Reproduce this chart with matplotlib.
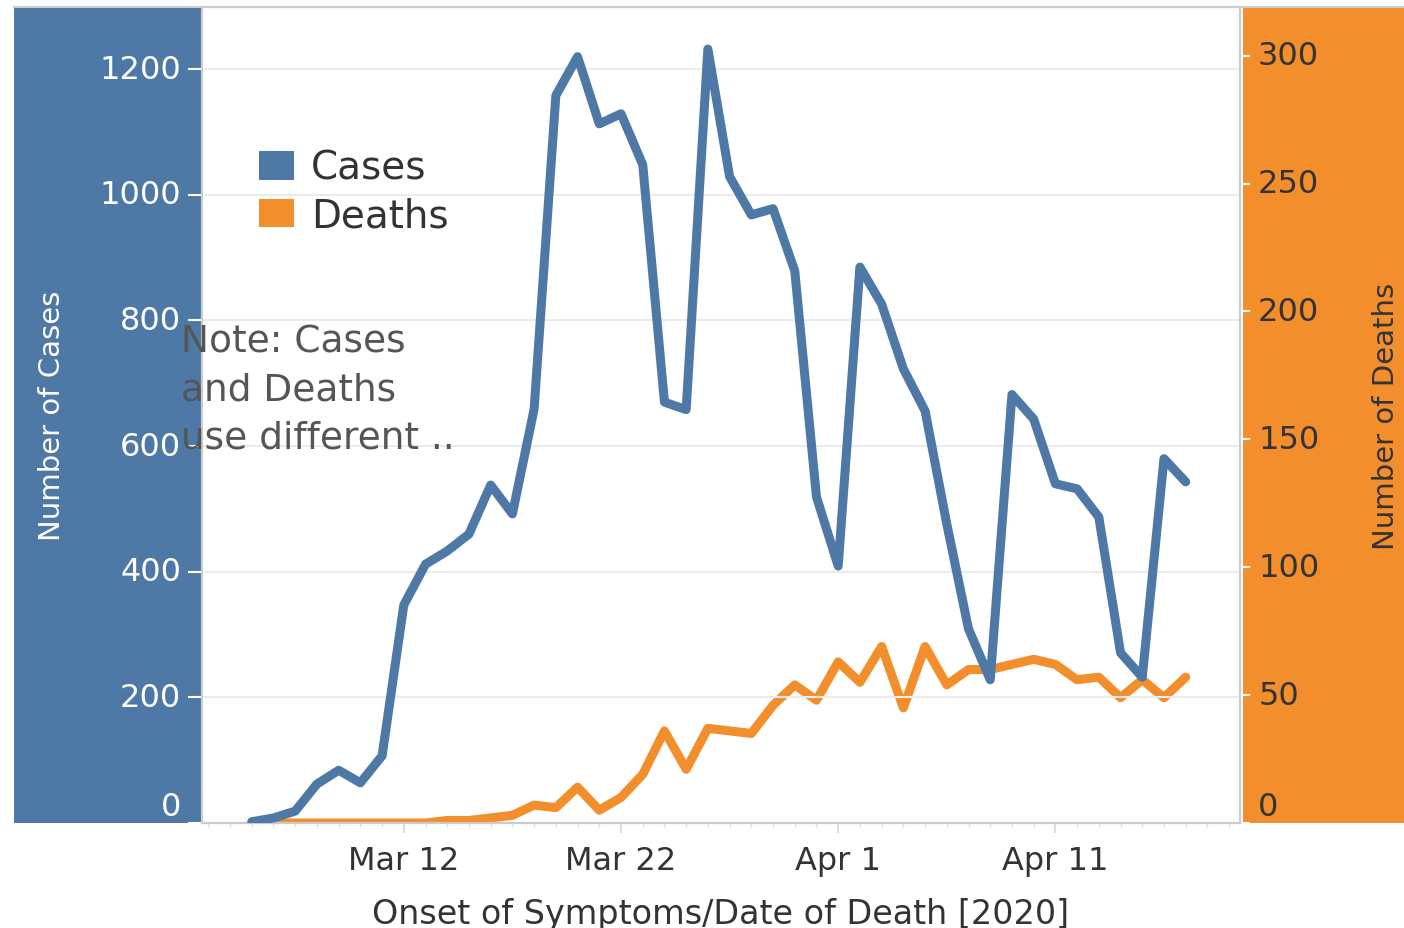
import matplotlib
matplotlib.use("Agg")
import matplotlib.pyplot as plt
import matplotlib.dates as mdates
import matplotlib.transforms as mtransforms
from matplotlib.patches import Rectangle, Patch
import pandas as pd

# daily values, Mar 5 - Apr 17 2020
dates = pd.date_range("2020-03-05", "2020-04-17", freq="D")
cases = [2, 8, 19, 62, 84, 64, 107, 347, 412, 433, 460, 538, 492, 659,
         1158, 1220, 1113, 1129, 1048, 670, 658, 1232, 1029, 968, 978, 879,
         519, 409, 885, 826, 723, 656, 476, 309, 228, 682, 643, 540, 532,
         487, 271, 232, 580, 543]
deaths = [0, 0, 0, 0, 0, 0, 0, 0, 0, 1, 1, 2, 3, 7, 6, 14, 5, 10, 19, 36,
          21, 37, 36, 35, 46, 54, 48, 63, 55, 69, 45, 69, 54, 60, 60, 62,
          64, 62, 56, 57, 49, 56, 49, 57]
case_ticks = [0, 200, 400, 600, 800, 1000, 1200]
death_ticks = [0, 50, 100, 150, 200, 250, 300]
date_ticks = ["2020-03-12", "2020-03-22", "2020-04-01", "2020-04-11"]

BLUE = "#4E79A7"
ORANGE = "#F28E2B"
TEXT = "#333333"
W, H = 1404, 929

fig = plt.figure(figsize=(W / 100, H / 100), dpi=100)

# coloured side panels behind the axis labels
fig.patches.append(Rectangle((14 / W, 1 - 824 / H), (202 - 14) / W, 816 / H,
                             transform=fig.transFigure, facecolor=BLUE,
                             edgecolor="none", zorder=-5))
fig.patches.append(Rectangle((1243 / W, 1 - 824 / H), (W - 1243) / W, 816 / H,
                             transform=fig.transFigure, facecolor=ORANGE,
                             edgecolor="none", zorder=-5))

ax = fig.add_axes([202 / W, 1 - 824 / H, (1240 - 202) / W, 816 / H])
ax2 = ax.twinx()
ax.set_zorder(ax2.get_zorder() + 1)
ax.patch.set_visible(False)
ax2.patch.set_facecolor("white")

ax.plot(dates, cases, color=BLUE, lw=6.5, solid_joinstyle="round",
        solid_capstyle="round", zorder=3)
ax2.plot(dates, deaths, color=ORANGE, lw=6.5, solid_joinstyle="round",
         solid_capstyle="round", zorder=3)

ax.set_ylim(0, 1299)
ax2.set_ylim(0, 319)
ax.set_xlim(pd.Timestamp("2020-03-02 17:00"), pd.Timestamp("2020-04-19 12:00"))

ax.set_yticks(case_ticks)
ax2.set_yticks(death_ticks)
ax.set_xticks(pd.to_datetime(date_ticks))
ax.xaxis.set_major_formatter(mdates.DateFormatter("%b %-d"))
ax.xaxis.set_minor_locator(mdates.DayLocator())

ax.grid(axis="y", color="#EBEBEB", lw=1.5)
ax.set_axisbelow(True)

for a in (ax, ax2):
    for s in a.spines.values():
        s.set_color("#CCCCCC")
        s.set_linewidth(1.5)

ax.tick_params(axis="y", colors="white", labelsize=23, length=10, width=1.5,
               pad=5)
ax2.tick_params(axis="y", colors="white", labelcolor=TEXT, labelsize=23,
                length=7, width=1.5, pad=6)
ax.tick_params(axis="x", which="major", colors="#DDDDDD", labelcolor=TEXT,
               labelsize=23, length=7, width=1.5, pad=9)
ax.tick_params(axis="x", which="minor", colors="#DDDDDD", length=3, width=1)

# the zero labels sit just above the baseline, as in the original
lift = mtransforms.ScaledTranslation(0, 0.5 / 72, fig.dpi_scale_trans)
for a in (ax, ax2):
    labels = a.get_yticklabels()
    for lab in labels:
        lab.set_verticalalignment("center")
    labels[0].set_verticalalignment("bottom")
    labels[0].set_transform(labels[0].get_transform() + lift)

ax.set_xlabel("Onset of Symptoms/Date of Death [2020]", fontsize=24,
              color=TEXT, labelpad=15)
ax.set_ylabel("Number of Cases", fontsize=21, color="white", labelpad=24)
ax2.set_ylabel("Number of Deaths", fontsize=21, color=TEXT, labelpad=38)

handles = [Patch(facecolor=BLUE, label="Cases"),
           Patch(facecolor=ORANGE, label="Deaths")]
ax.legend(handles=handles, loc="upper left", bbox_to_anchor=(0.036, 0.85),
          frameon=False, fontsize=28, handlelength=0.9, handleheight=0.75,
          handletextpad=0.45, labelspacing=0.25, borderpad=0, labelcolor=TEXT)

fig.text(181 / W, 1 - 325 / H, "Note: Cases\nand Deaths\nuse different ..",
         fontsize=27, color="#555555", va="top", ha="left", linespacing=1.42,
         zorder=10)

# thin grey frame line at the top of the whole chart
fig.add_artist(plt.Line2D([14 / W, 1], [1 - 8 / H, 1 - 8 / H],
                          transform=fig.transFigure, color="#CCCCCC", lw=1.5))

fig.savefig("out.png", dpi=100)
